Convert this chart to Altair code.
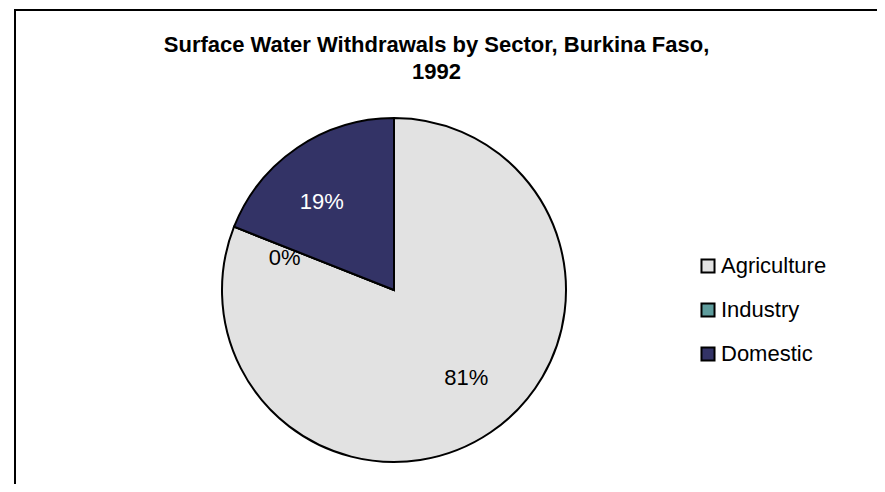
import altair as alt
import pandas as pd

sectors = ["Agriculture", "Industry", "Domestic"]
shares = [81, 0, 19]
labels = ["81%", "0%", "19%"]
label_colors = ["black", "black", "white"]
colors = ["#e2e2e2", "#5e9c9c", "#333366"]
title_lines = ["Surface Water Withdrawals by Sector, Burkina Faso,", "1992"]

df = pd.DataFrame({
    "sector": sectors,
    "share": shares,
    "label": labels,
    "lc": label_colors,
    "order": list(range(len(sectors))),
})

W, H = 869, 476
CX, CY, R = 386, 282, 172
FONT = "Liberation Sans"

base = alt.Chart(df).encode(
    theta=alt.Theta("share:Q", stack=True),
    order=alt.Order("order:Q"),
)

pie = base.mark_arc(stroke="black", strokeWidth=2, outerRadius=R).encode(
    x=alt.value(CX),
    y=alt.value(CY),
    color=alt.Color(
        "sector:N",
        sort=sectors,
        scale=alt.Scale(domain=sectors, range=colors),
        legend=alt.Legend(
            title=None,
            orient="none",
            legendX=689,
            legendY=247,
            symbolType="square",
            symbolSize=170,
            symbolStrokeColor="black",
            symbolStrokeWidth=2,
            labelFont=FONT,
            labelFontSize=22,
            labelColor="black",
            labelOffset=2,
            rowPadding=22,
        ),
    ),
)

text = base.mark_text(radius=114, thetaOffset=-0.09, fontSize=22, font=FONT).encode(
    x=alt.value(CX),
    y=alt.value(CY),
    text="label:N",
    color=alt.Color("lc:N", scale=None),
)

frame = alt.Chart(pd.DataFrame({"a": [0]})).mark_rect(
    fill="transparent", stroke="black", strokeWidth=2
).encode(
    x=alt.value(7), y=alt.value(2), x2=alt.value(W + 30), y2=alt.value(H + 30)
)

chart = alt.layer(frame, pie, text).properties(
    width=W,
    height=H,
    autosize=alt.AutoSizeParams(type="none"),
    padding=0,
    title=alt.TitleParams(
        text=title_lines,
        anchor="middle",
        font=FONT,
        fontSize=22,
        fontWeight="bold",
        color="black",
        lineHeight=27,
        baseline="alphabetic",
        offset=-93,
        dx=-6,
    ),
).configure_view(stroke="transparent")

chart.save("out.html", embed_options={"renderer": "svg", "actions": False})
